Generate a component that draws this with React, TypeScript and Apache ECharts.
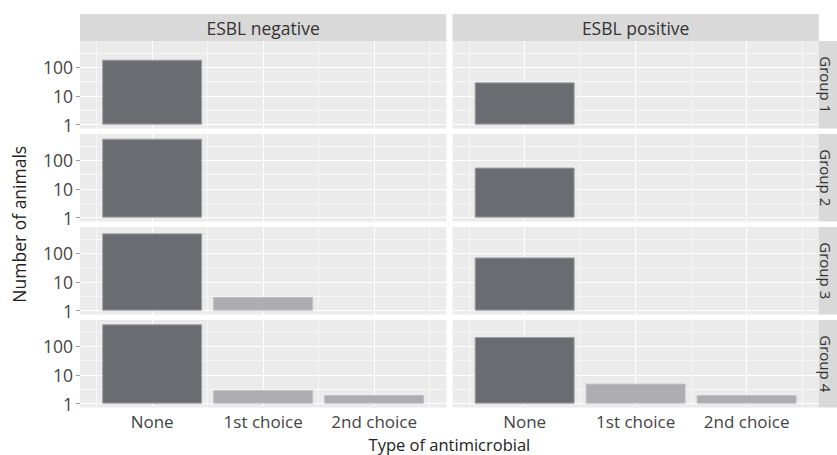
import React, { useEffect, useRef } from "react";
import * as echarts from "echarts";

// ---- data ----
const categories = ["None", "1st choice", "2nd choice"];
const esblStatus = ["ESBL negative", "ESBL positive"];
const groups = ["Group 1", "Group 2", "Group 3", "Group 4"];
const yTickValues = [1, 10, 100];

// values per group (Group 1..4); null = no animals
const negNone = [185, 570, 500, 590];
const neg1st = [null, null, 3, 3];
const neg2nd = [null, null, null, 2];
const posNone = [30, 56, 72, 213];
const pos1st = [null, null, null, 5];
const pos2nd = [null, null, null, 2];

const seriesByStatus = [
  [negNone, neg1st, neg2nd],
  [posNone, pos1st, pos2nd],
];

// ---- style / layout ----
const FONT = "'Open Sans', sans-serif";
const FS = 17.5;
const barColors = ["#6b6c71", "#adadb1", "#adadb1"];
const barBorders = ["#a2a2a5", "#c2c2c4", "#c2c2c4"];
const colLeft = [80, 452.5];
const colWidth = 366.3;
const rowTop = [41, 134, 227, 320];
const rowHeight = 87.5;
const X_MIN = 0.35;
const X_MAX = 3.65;
const Y_MIN = -0.135;
const Y_MAX = 2.92;

export default function App() {
  const ref = useRef<HTMLDivElement>(null);

  useEffect(() => {
    if (!ref.current) return;
    const chart = echarts.init(ref.current, undefined, { renderer: "svg" });

    const grids: any[] = [];
    const xAxes: any[] = [];
    const yAxes: any[] = [];
    const series: any[] = [];
    const graphics: any[] = [];

    const xPositions = categories.map((_, i) => i + 1);
    const yLogTicks = yTickValues.map((v) => Math.log10(v));

    let gi = 0;
    for (let r = 0; r < groups.length; r++) {
      for (let c = 0; c < esblStatus.length; c++) {
        grids.push({
          left: colLeft[c],
          top: rowTop[r],
          width: colWidth,
          height: rowHeight,
          show: true,
          backgroundColor: "#ebebeb",
          borderWidth: 0,
        });
        const bottom = r === groups.length - 1;
        const leftCol = c === 0;
        xAxes.push({
          type: "value",
          gridIndex: gi,
          min: X_MIN,
          max: X_MAX,
          axisLine: { show: false },
          splitLine: { show: false },
          axisTick: {
            show: bottom,
            customValues: xPositions,
            length: 4,
            lineStyle: { color: "#9a9a9a", width: 1 },
          },
          axisLabel: {
            show: bottom,
            customValues: xPositions,
            formatter: (v: number) => categories[Math.round(v) - 1] ?? "",
            color: "#444",
            fontFamily: FONT,
            fontSize: 17,
            margin: 5,
            lineHeight: 18,
          },
        });
        yAxes.push({
          type: "value",
          gridIndex: gi,
          min: Y_MIN,
          max: Y_MAX,
          axisLine: { show: false },
          splitLine: { show: false },
          axisTick: {
            show: leftCol,
            customValues: yLogTicks,
            length: 4,
            lineStyle: { color: "#9a9a9a", width: 1 },
          },
          axisLabel: {
            show: leftCol,
            customValues: yLogTicks,
            formatter: (v: number) => String(Math.round(Math.pow(10, v))),
            color: "#444",
            fontFamily: FONT,
            fontSize: FS,
            margin: 7,
          },
        });

        // panel grid lines
        const lines: any[] = [];
        for (let k = 1; k <= 7; k++) {
          const xv = k * 0.5;
          lines.push({ xAxis: xv, lineStyle: { width: k % 2 === 0 ? 1.1 : 0.55 } });
        }
        for (let k = 0; k <= 5; k++) {
          const yv = k * 0.5;
          lines.push({ yAxis: yv, lineStyle: { width: k % 2 === 0 ? 1.1 : 0.55 } });
        }
        series.push({
          type: "line",
          xAxisIndex: gi,
          yAxisIndex: gi,
          data: [],
          z: 1,
          silent: true,
          markLine: {
            silent: true,
            z: 1,
            symbol: ["none", "none"],
            label: { show: false },
            lineStyle: { color: "#ffffff", type: "solid" },
            data: lines,
          },
        });

        // bars
        const data: any[] = [];
        seriesByStatus[c].forEach((arr, ci) => {
          const v = arr[r];
          if (v == null) return;
          data.push({
            value: [ci + 1, Math.log10(v)],
            itemStyle: {
              color: barColors[ci],
              borderColor: barBorders[ci],
              borderWidth: 1,
            },
          });
        });
        series.push({
          type: "bar",
          xAxisIndex: gi,
          yAxisIndex: gi,
          barWidth: 100,
          z: 2,
          data,
        });
        gi++;
      }
    }

    // top strips
    esblStatus.forEach((s, c) => {
      graphics.push({
        type: "rect",
        shape: { x: colLeft[c], y: 14, width: colWidth, height: 27 },
        style: { fill: "#d9d9d9" },
        silent: true,
      });
      graphics.push({
        type: "text",
        x: colLeft[c] + colWidth / 2,
        y: 27.5,
        style: {
          text: s,
          fill: "#333",
          font: `${FS}px ${FONT}`,
          align: "center",
          verticalAlign: "middle",
          textAlign: "center",
          textVerticalAlign: "middle",
        },
        silent: true,
      });
    });
    // right strips
    const stripX = colLeft[1] + colWidth;
    groups.forEach((g, r) => {
      graphics.push({
        type: "rect",
        shape: { x: stripX, y: rowTop[r], width: 27, height: rowHeight },
        style: { fill: "#d9d9d9" },
        silent: true,
      });
      graphics.push({
        type: "text",
        x: stripX + 7.5,
        y: rowTop[r] + rowHeight / 2,
        rotation: -Math.PI / 2,
        style: {
          text: g,
          fill: "#333",
          font: `15px ${FONT}`,
          lineHeight: 15,
          align: "center",
          verticalAlign: "middle",
          textAlign: "center",
          textVerticalAlign: "middle",
        },
        silent: true,
      });
    });
    // axis titles
    graphics.push({
      type: "text",
      x: 19,
      y: (rowTop[0] + rowTop[3] + rowHeight) / 2,
      rotation: Math.PI / 2,
      style: {
        text: "Number of animals",
        fill: "#222",
        font: `${FS}px ${FONT}`,
        align: "center",
        verticalAlign: "middle",
        textAlign: "center",
        textVerticalAlign: "middle",
      },
      silent: true,
    });
    graphics.push({
      type: "text",
      x: (colLeft[0] + colLeft[1] + colWidth) / 2,
      y: 444,
      style: {
        text: "Type of antimicrobial",
        fill: "#222",
        font: `16.5px ${FONT}`,
        lineHeight: 18,
        align: "center",
        verticalAlign: "middle",
        textAlign: "center",
        textVerticalAlign: "middle",
      },
      silent: true,
    });

    chart.setOption({
      animation: false,
      backgroundColor: "#ffffff",
      grid: grids,
      xAxis: xAxes,
      yAxis: yAxes,
      series,
      graphic: graphics,
    });

    return () => chart.dispose();
  }, []);

  return (
    <div
      ref={ref}
      style={{ position: "fixed", left: 0, top: 0, width: 837, height: 455 }}
    />
  );
}
